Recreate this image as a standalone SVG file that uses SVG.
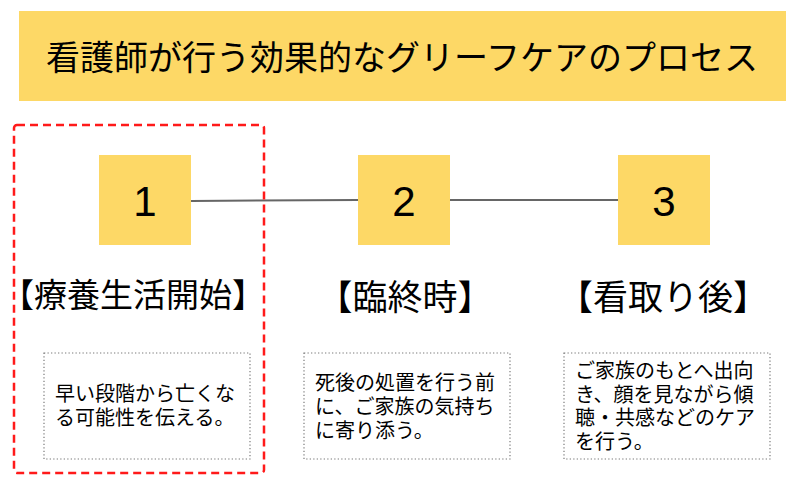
<svg xmlns="http://www.w3.org/2000/svg" width="800" height="492" viewBox="0 0 800 492">
<style>
.jp{font-family:"Noto Sans CJK JP","Noto Sans CJK SC",sans-serif;fill:#000}
.num{font-family:"Liberation Sans",Arial,sans-serif;font-size:42px;fill:#000;text-anchor:middle}
.sq{fill:#fdd866}
.desc{fill:#fff;stroke:#7a7a7a;stroke-width:1.2;stroke-dasharray:1.3 2.2}
.dt{font-size:20px}
.lbl{text-anchor:middle}
.conn{stroke:#666;stroke-width:2;fill:none}
</style>
<rect width="800" height="492" fill="#fff"/>
<g id="title">
<rect x="19" y="11" width="767" height="90" class="sq"/>
<text x="402" y="70" class="jp" font-size="34" text-anchor="middle">看護師が行う効果的なグリーフケアのプロセス</text>
</g>
<g id="connectors">
<line x1="191" y1="201" x2="358" y2="200" class="conn"/>
<line x1="450" y1="200" x2="618" y2="200" class="conn"/>
</g>
<g id="step1">
<rect x="99" y="155" width="92" height="90" class="sq"/>
<text x="145" y="216" class="num">1</text>
<text x="133" y="307" class="jp lbl" font-size="33">【療養生活開始】</text>
<rect x="44" y="353" width="206" height="106" class="desc"/>
<text class="jp dt"><tspan x="55" y="401">早い段階から亡くな</tspan><tspan x="55" y="425">る可能性を伝える。</tspan></text>
</g>
<g id="step2">
<rect x="358" y="155" width="92" height="90" class="sq"/>
<text x="404" y="216" class="num">2</text>
<text x="405" y="310" class="jp lbl" font-size="35">【臨終時】</text>
<rect x="304" y="353" width="206" height="106" class="desc"/>
<text class="jp dt"><tspan x="315" y="390">死後の処置を行う前</tspan><tspan x="315" y="414">に、ご家族の気持ち</tspan><tspan x="315" y="438">に寄り添う。</tspan></text>
</g>
<g id="step3">
<rect x="618" y="155" width="92" height="90" class="sq"/>
<text x="664" y="216" class="num">3</text>
<text x="663" y="310" class="jp lbl" font-size="35">【看取り後】</text>
<rect x="564" y="353" width="206" height="106" class="desc"/>
<text class="jp dt"><tspan x="575" y="378">ご家族のもとへ出向</tspan><tspan x="575" y="401.5">き、顔を見ながら傾</tspan><tspan x="575" y="425">聴・共感などのケア</tspan><tspan x="575" y="448.5">を行う。</tspan></text>
</g>
<g id="highlight">
<rect x="14" y="125" width="250" height="348" rx="3" fill="none" stroke="#ff1a1a" stroke-width="2.5" stroke-dasharray="8 5"/>
</g>
</svg>
